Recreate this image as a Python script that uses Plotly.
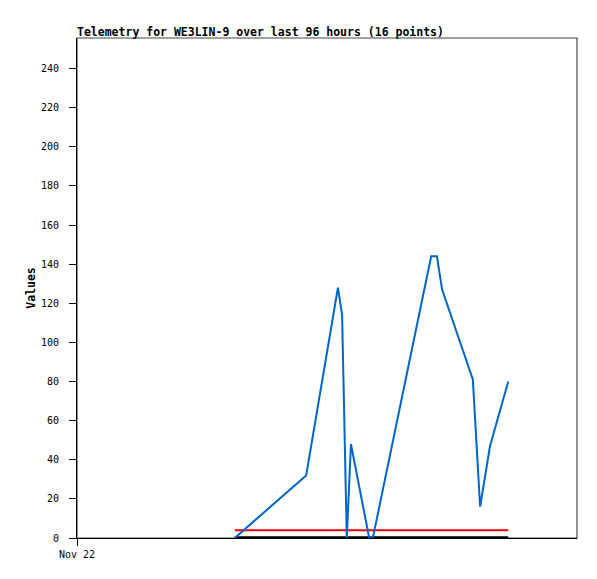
import plotly.graph_objects as go

# hours since Nov 22 00:00 (axis spans 96 hours)
hours = [30.3, 44.0, 50.1, 50.9, 51.8, 52.6, 56.1, 56.8, 68.0, 69.1, 70.1, 76.0, 77.4, 79.3, 82.8]
values = [0, 32, 128, 114, 0, 48, 0, 0, 144, 144, 127, 81, 16, 47, 80]
ref_red = 4
ref_black = 0.4
tick_vals_x = [0]
tick_text_x = ["Nov 22"]
y_ticks = list(range(0, 241, 20))

fig = go.Figure()
fig.add_trace(go.Scatter(x=[hours[0], hours[-1]], y=[ref_black, ref_black], mode="lines",
                         line=dict(color="#000000", width=2), showlegend=False, hoverinfo="skip"))
fig.add_trace(go.Scatter(x=[hours[0], hours[-1]], y=[ref_red, ref_red], mode="lines",
                         line=dict(color="#FF0000", width=2), showlegend=False, hoverinfo="skip"))
fig.add_trace(go.Scatter(x=hours, y=values, mode="lines",
                         line=dict(color="#0066CC", width=2), showlegend=False))

# page body has an 8px default margin, so the figure is offset by (8, 8)
fig.update_layout(
    width=589, height=571,
    margin=dict(l=69, r=20, t=30, b=41),
    paper_bgcolor="white", plot_bgcolor="white",
    title=dict(text="<b>Telemetry for WE3LIN-9 over last 96 hours (16 points)</b>",
               font=dict(family="DejaVu Sans Mono", size=11.5, color="black"),
               x=0, xref="paper", xanchor="left", y=1, yref="paper", yanchor="bottom",
               pad=dict(b=2)),
    shapes=[dict(type="rect", xref="paper", yref="paper", x0=0, x1=1, y0=0, y1=1,
                 line=dict(color="#444444", width=1.2), fillcolor="rgba(0,0,0,0)", layer="below")],
)
fig.update_xaxes(range=[0, 96], showgrid=False, zeroline=False,
                 showline=True, linecolor="black", linewidth=1,
                 tickmode="array", tickvals=tick_vals_x, ticktext=tick_text_x,
                 ticks="outside", ticklen=7, tickcolor="black", tickwidth=1,
                 tickfont=dict(family="DejaVu Sans Mono", size=10, color="black"))
fig.update_yaxes(range=[0, 255.6], showgrid=False, zeroline=False,
                 showline=True, linecolor="black", linewidth=1,
                 tickmode="array", tickvals=y_ticks,
                 ticks="outside", ticklen=7, tickcolor="black", tickwidth=1,
                 ticklabelstandoff=8,
                 tickfont=dict(family="DejaVu Sans Mono", size=10, color="black"),
                 title=dict(text="<b>Values</b>", standoff=2,
                            font=dict(family="DejaVu Sans Mono", size=11.5, color="black")))

fig.write_html("out.html")
